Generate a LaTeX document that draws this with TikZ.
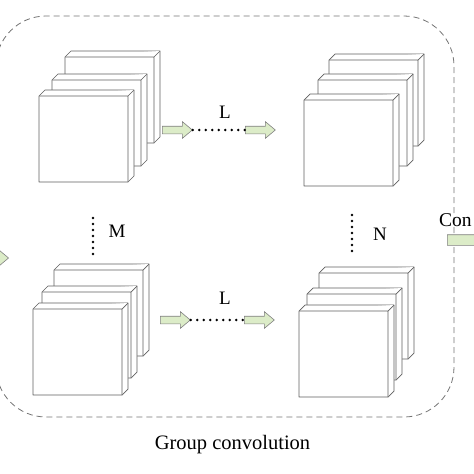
\documentclass[tikz,border=0pt]{standalone}
\usepackage{fontspec}
\setmainfont{Liberation Serif}
\usetikzlibrary{shapes.arrows}

\definecolor{arrowgreen}{RGB}{220,236,200}
\definecolor{edgegray}{RGB}{95,95,95}

% one feature map drawn as a thin slab, front top-left corner at (#1,#2)
\newcommand{\layerbox}[2]{%
  \filldraw[layer] (#1,#2) -- ++(6,-6) -- ++(89,0) -- ++(0,86) -- ++(-6,6) -- ++(-89,0) -- cycle;
  \draw[layer] (#1,#2) -- ++(89,0) -- ++(6,-6) (#1+89,#2) -- ++(0,86);
}

\begin{document}
\begin{tikzpicture}[x=1pt,y=-1pt,
    layer/.style={draw=edgegray,fill=white,line width=0.7pt,line join=round},
    blockarrow/.style={single arrow,draw=gray,fill=arrowgreen,line width=0.6pt,
      inner xsep=0pt,inner ysep=3.5pt,minimum height=30pt,
      single arrow head extend=4.5pt,single arrow tip angle=80},
    dotline/.style={line width=2.6pt,line cap=round,dash pattern=on 0pt off 6.5pt},
    groupbox/.style={draw=gray!90!black,dash pattern=on 6pt off 4pt,line width=0.8pt,rounded corners=50pt},
    lbl/.style={font=\fontsize{19}{21}\selectfont,anchor=base}]
  \useasboundingbox (0,0) rectangle (474,474);

  % Group frame
  \draw[groupbox] (-4,16) rectangle (454,417);
  \node[anchor=base,font=\fontsize{20.5}{24}\selectfont] (title) at (232.5,449) {Group convolution};

  % Input arrow and output
  \node[blockarrow,anchor=tip] (inarrow) at (9,258) {};
  \node[blockarrow,anchor=tail,inner ysep=5pt,minimum height=40pt] (outarrow) at (447,240) {};
  \node[anchor=base west,font=\fontsize{19.5}{22}\selectfont,inner sep=0pt] (concat) at (439,226) {Con};

  % Stacks
  \layerbox{65}{57}  \layerbox{52}{80}  \layerbox{39}{96}
  \layerbox{329}{60} \layerbox{318}{80} \layerbox{304}{100}
  \layerbox{54}{270} \layerbox{42}{292} \layerbox{33}{309}
  \layerbox{319}{273} \layerbox{307}{294} \layerbox{299}{311}

  % Top row
  \node[blockarrow,anchor=tail] (a1) at (162,130) {};
  \node[blockarrow,anchor=tail] (a2) at (245,130) {};
  \draw[dotline] (a1.tip) -- (a2.tail);
  \node[lbl] (ltop) at (225,118) {L};

  % Bottom row
  \node[blockarrow,anchor=tail] (b1) at (160,320) {};
  \node[blockarrow,anchor=tail] (b2) at (244,320) {};
  \draw[dotline] (b1.tip) -- (b2.tail);
  \node[lbl] (lbot) at (225,304) {L};

  % Vertical dots
  \coordinate (m1) at (93,218);
  \coordinate (m2) at (93,254);
  \draw[dotline,dash pattern=on 0pt off 6pt] (m1) -- (m2);
  \node[lbl] (mlabel) at (117,237) {M};
  \coordinate (n1) at (352,215);
  \coordinate (n2) at (352,252);
  \draw[dotline,dash pattern=on 0pt off 6pt] (n1) -- (n2);
  \node[lbl] (nlabel) at (380,240) {N};
\end{tikzpicture}
\end{document}
